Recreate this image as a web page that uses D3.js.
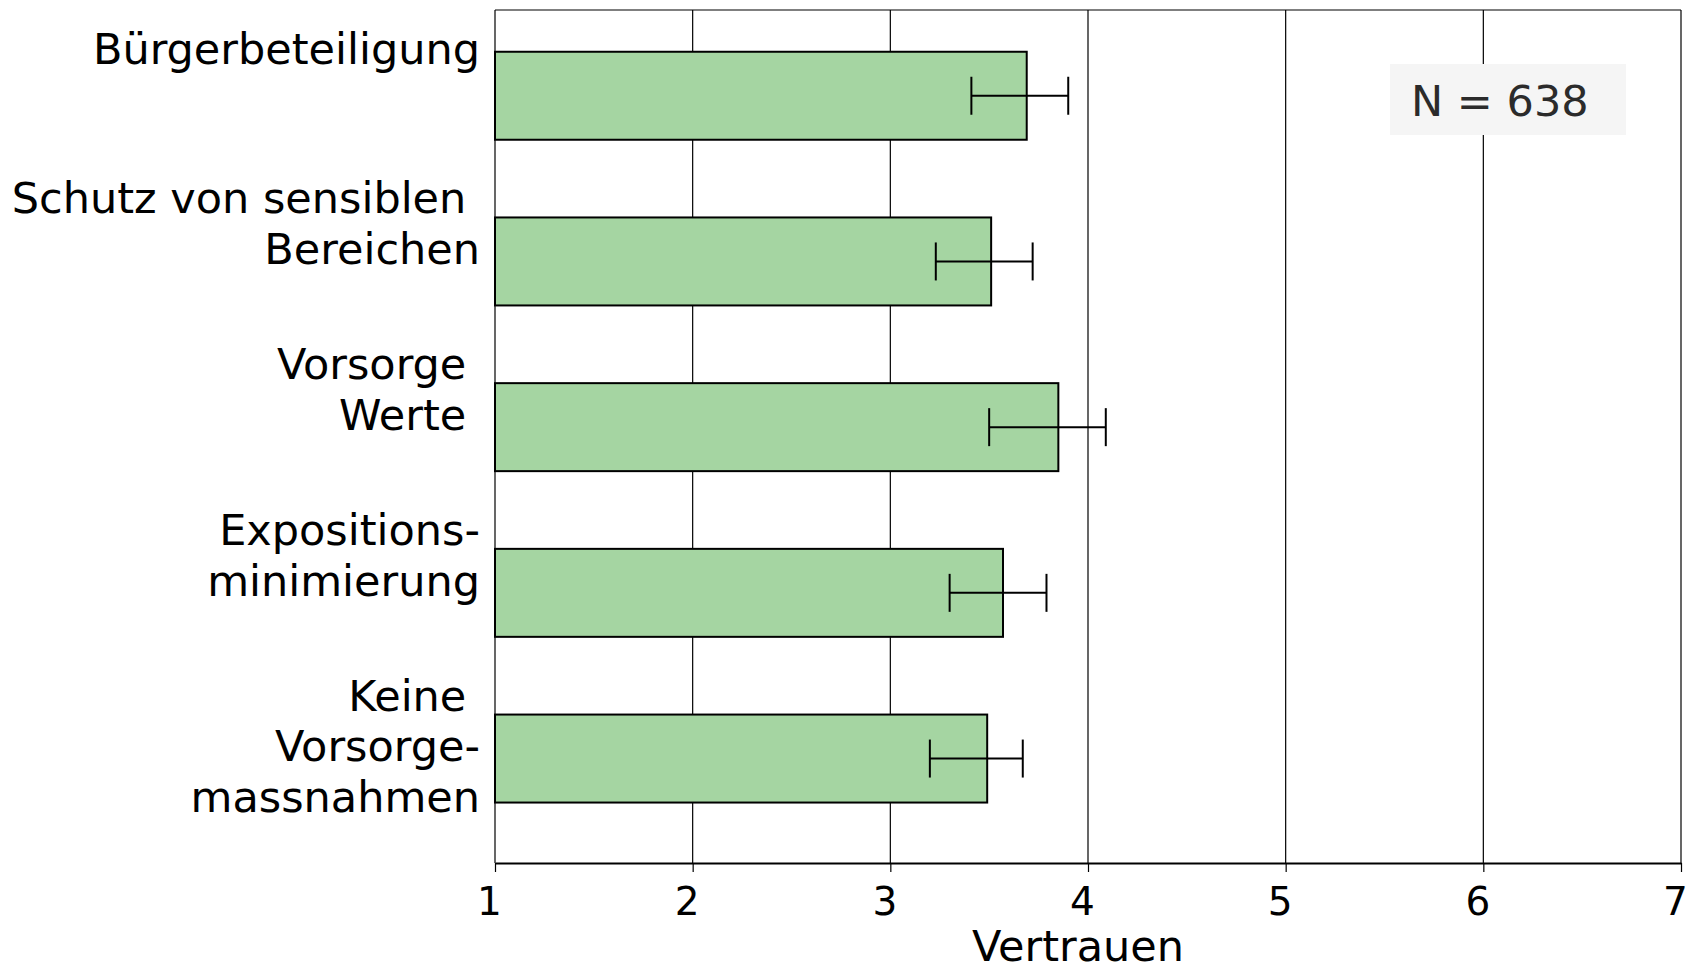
<!DOCTYPE html>
<html><head><meta charset="utf-8">
<script src="https://cdn.jsdelivr.net/npm/d3@7"></script>
<style>body{margin:0;background:#fff} svg text{white-space:pre}</style>
</head><body><svg id="c" width="1692" height="963"></svg>
<script>
// ---- data ----
const categories = [
  "Bürgerbeteiligung",
  "Schutz von sensiblen \nBereichen",
  "Vorsorge \nWerte ",
  "Expositions-\nminimierung",
  "Keine \nVorsorge-\nmassnahmen"
];
const means  = [3.69, 3.51, 3.85, 3.57, 3.49];
const ciLow  = [3.41, 3.23, 3.50, 3.30, 3.20];
const ciHigh = [3.90, 3.72, 4.09, 3.79, 3.67];
const xTicks = [1, 2, 3, 4, 5, 6, 7];
const xTitle = "Vertrauen";
const noteText = "N = 638";

// ---- layout ----
const W = 1692, H = 963;
const L = 495, R = 1681, T = 10, B = 863;
const labelFont = "'DejaVu Sans', Verdana, sans-serif";
const svg = d3.select("#c");

const rows = categories.map((c, i) => ({cat: c, mean: means[i], lo: ciLow[i], hi: ciHigh[i]}));

const x = d3.scaleLinear().domain([1, 7]).range([L, R]);
const y = d3.scaleBand().domain(categories).range([12.9, 841.4])
  .paddingInner(0.469).paddingOuter(0.2345);

// gridlines
svg.append("g").selectAll("line").data(xTicks.slice(1)).join("line")
  .attr("x1", d => x(d)).attr("x2", d => x(d))
  .attr("y1", T).attr("y2", B)
  .attr("stroke", "#000").attr("stroke-width", 1.2);
// top border & left axis line
svg.append("line").attr("x1", L).attr("x2", R).attr("y1", T).attr("y2", T)
  .attr("stroke", "#000").attr("stroke-width", 1.2);
svg.append("line").attr("x1", L).attr("x2", L).attr("y1", T).attr("y2", B)
  .attr("stroke", "#000").attr("stroke-width", 1.2);

// bars
svg.append("g").selectAll("rect").data(rows).join("rect")
  .attr("x", x(1)).attr("y", d => y(d.cat))
  .attr("width", d => x(d.mean) - x(1)).attr("height", y.bandwidth())
  .attr("fill", "#a5d5a2").attr("stroke", "#000").attr("stroke-width", 2);

// error bars
const eb = svg.append("g").attr("stroke", "#000");
const cy = d => y(d.cat) + y.bandwidth() / 2;
eb.selectAll("line.h").data(rows).join("line").attr("class", "h")
  .attr("x1", d => x(d.lo)).attr("x2", d => x(d.hi))
  .attr("y1", cy).attr("y2", cy).attr("stroke-width", 2);
eb.selectAll("line.lo").data(rows).join("line").attr("class", "lo")
  .attr("x1", d => x(d.lo)).attr("x2", d => x(d.lo))
  .attr("y1", d => cy(d) - 19).attr("y2", d => cy(d) + 19).attr("stroke-width", 2);
eb.selectAll("line.hi").data(rows).join("line").attr("class", "hi")
  .attr("x1", d => x(d.hi)).attr("x2", d => x(d.hi))
  .attr("y1", d => cy(d) - 19).attr("y2", d => cy(d) + 19).attr("stroke-width", 2);

// category labels
const lineH = 50.7;
svg.append("g").selectAll("text").data(rows).join("text")
  .attr("text-anchor", "end")
  .attr("font-family", labelFont).attr("font-size", 43).attr("fill", "#000")
  .each(function(d) {
    const lines = d.cat.split("\n");
    const top = y(d.cat) + (lines.length === 1 ? 12 : -4);
    d3.select(this).selectAll("tspan").data(lines).join("tspan")
      .attr("x", 480).attr("y", (s, j) => top + j * lineH).text(s => s);
  });

// note box
const note = svg.append("g");
note.append("rect").attr("x", 1390).attr("y", 64).attr("width", 236).attr("height", 71)
  .attr("fill", "#f5f5f5");
note.append("text").attr("x", 1411).attr("y", 116)
  .attr("font-family", labelFont).attr("font-size", 43)
  .attr("fill", "#2b2b2b").text(noteText);

// x axis
const ax = svg.append("g").attr("transform", `translate(0,${B})`)
  .call(d3.axisBottom(x).tickValues(xTicks).tickSize(9).tickSizeOuter(0).tickFormat(d3.format("d")));
ax.select(".domain").attr("stroke", "#000").attr("stroke-width", 2);
ax.selectAll(".tick line").attr("stroke", "#000").attr("stroke-width", 1.2);
ax.selectAll(".tick text").attr("y", 24).attr("dx", -6)
  .attr("font-family", labelFont).attr("font-size", 39).attr("fill", "#000");

svg.append("text").attr("x", 1078).attr("y", 961).attr("text-anchor", "middle")
  .attr("font-family", labelFont).attr("font-size", 43).attr("fill", "#000").text(xTitle);
</script></body></html>
